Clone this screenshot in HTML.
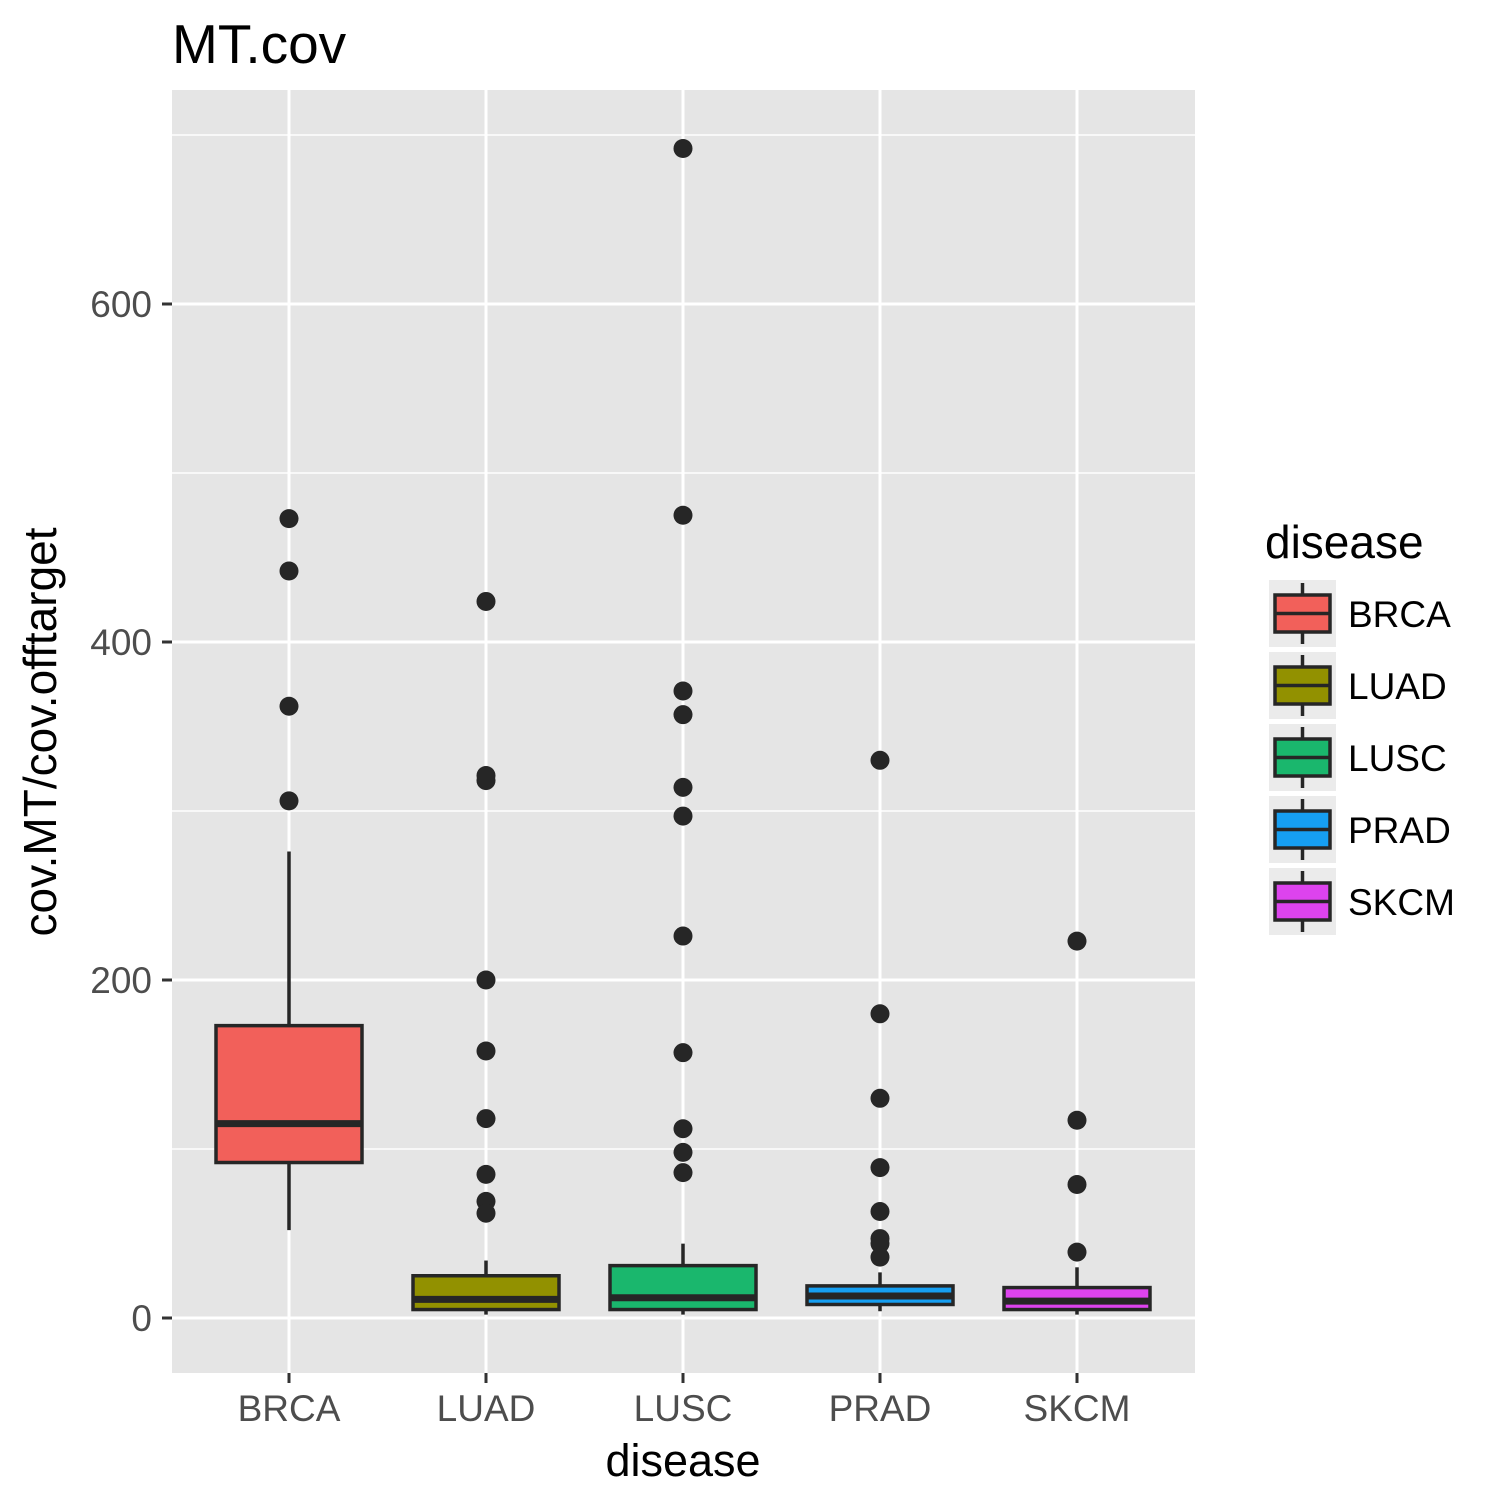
<!DOCTYPE html>
<html><head><meta charset="utf-8"><style>
html,body{margin:0;padding:0;background:#fff}
svg{display:block;font-family:"Liberation Sans",Arial,sans-serif}
</style></head><body>
<svg id="chart" width="1500" height="1500" viewBox="0 0 1500 1500">
<text x="172" y="63" font-size="55" fill="#000">MT.cov</text>
<rect x="172" y="90" width="1023" height="1283" fill="#e5e5e5"/>
<g id="grid"></g>
<g id="marks"></g>
<g id="axes"></g>
<text x="683" y="1476" font-size="45" text-anchor="middle" fill="#000">disease</text>
<text transform="translate(56,732) rotate(-90)" font-size="46" text-anchor="middle" fill="#000">cov.MT/cov.offtarget</text>
<g id="legend">
<text x="1265" y="558" font-size="46" fill="#000">disease</text>
</g>
</svg>
<script>
const categories = ["BRCA","LUAD","LUSC","PRAD","SKCM"];
const fills = ["#f2605a","#929100","#1ab76d","#169ff2","#dd43ee"];
const whiskerLow = [52,2,2,4,2];
const q1 = [92,5,5,8,5];
const median = [115,11,12,13,10];
const q3 = [173,25,31,19,18];
const whiskerHigh = [276,34,44,27,30];
const outliers = [
  [473,442,362,306],
  [424,321,318,200,158,118,85,69,62],
  [692,475,371,357,314,297,226,157,112,98,86],
  [330,180,130,89,63,47,44,36],
  [223,117,79,39]
];
const yTicks = [0,200,400,600];
const yMinor = [100,300,500,700];

const NS="http://www.w3.org/2000/svg";
function y(v){return 1318 - v*1.69;}
function x(i){return 289 + i*197;}
function mk(tag,attrs,parent){const e=document.createElementNS(NS,tag);for(const k in attrs)e.setAttribute(k,attrs[k]);parent.appendChild(e);return e;}
const grid=document.getElementById('grid'),marks=document.getElementById('marks'),axes=document.getElementById('axes'),legend=document.getElementById('legend');
yMinor.forEach(v=>{const l=mk('line',{x1:172,x2:1195,y1:y(v),y2:y(v),stroke:'#fff','stroke-width':1.5},grid);

});
yTicks.forEach(v=>{const l=mk('line',{x1:172,x2:1195,y1:y(v),y2:y(v),stroke:'#fff','stroke-width':3},grid);


const t=mk('line',{x1:162,x2:172,y1:y(v),y2:y(v),stroke:'#333','stroke-width':3},axes);


const tx=mk('text',{x:152,y:y(v)+13,'font-size':37,'text-anchor':'end',fill:'#4d4d4d'},axes);tx.textContent=v;

});
categories.forEach((c,i)=>{
const cx=x(i);
const g=mk('line',{x1:cx,x2:cx,y1:90,y2:1373,stroke:'#fff','stroke-width':3},grid);


const t=mk('line',{x1:cx,x2:cx,y1:1373,y2:1383,stroke:'#333','stroke-width':3},axes);


const tx=mk('text',{x:cx,y:1421,'font-size':37,'text-anchor':'middle',fill:'#4d4d4d'},axes);tx.textContent=c;


const w=mk('line',{x1:cx,x2:cx,y1:y(whiskerHigh[i]),y2:y(q3[i]),stroke:'#262626','stroke-width':3.5},marks);


const w2=mk('line',{x1:cx,x2:cx,y1:y(q1[i]),y2:y(whiskerLow[i]),stroke:'#262626','stroke-width':3.5},marks);


const b=mk('rect',{x:cx-73,y:y(q3[i]),width:146,height:y(q1[i])-y(q3[i]),fill:fills[i],stroke:'#262626','stroke-width':3.5},marks);


const m=mk('line',{x1:cx-73,x2:cx+73,y1:y(median[i]),y2:y(median[i]),stroke:'#262626','stroke-width':7},marks);


outliers[i].forEach(v=>{const p=mk('circle',{cx:cx,cy:y(v),r:9.5,fill:'#262626'},marks);

});
const ly=580+i*72;
const g2=mk('g',{},legend);


mk('rect',{x:1269,y:ly,width:67,height:67,fill:'#ebebeb'},g2);
mk('line',{x1:1302.5,x2:1302.5,y1:ly+3,y2:ly+64,stroke:'#262626','stroke-width':3.5},g2);
mk('rect',{x:1275,y:ly+15,width:55,height:37,fill:fills[i],stroke:'#262626','stroke-width':3.5},g2);
mk('line',{x1:1275,x2:1330,y1:ly+33.5,y2:ly+33.5,stroke:'#262626','stroke-width':3.5},g2);
const lt=mk('text',{x:1348,y:ly+47,'font-size':37,fill:'#000'},g2);lt.textContent=c;
});
</script>
</body></html>
